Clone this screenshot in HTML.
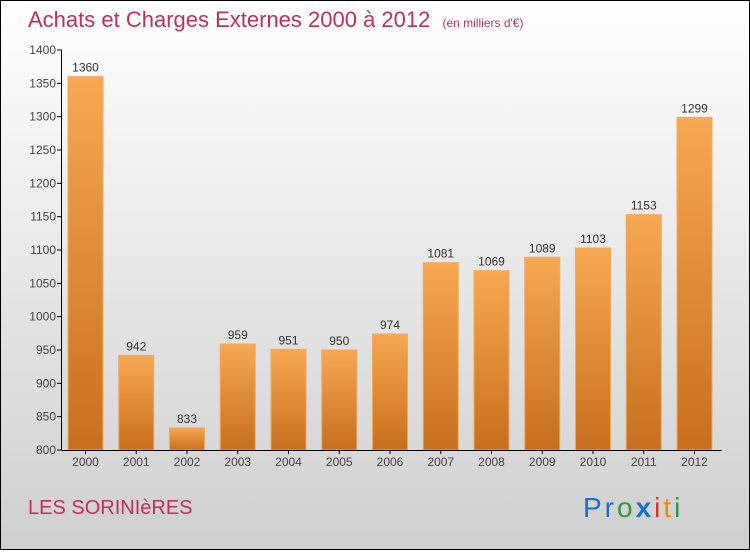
<!DOCTYPE html>
<html><head><meta charset="utf-8"><style>
body{margin:0;width:750px;height:550px;overflow:hidden;font-family:"Liberation Sans",sans-serif}
</style></head><body>
<svg width="750" height="550" xmlns="http://www.w3.org/2000/svg">
<defs>
<linearGradient id="bg" x1="0" y1="0" x2="0" y2="1"><stop offset="0" stop-color="#ffffff"/><stop offset="1" stop-color="#cfcfcf"/></linearGradient>
<linearGradient id="bar" x1="0" y1="0" x2="0" y2="1"><stop offset="0" stop-color="#f7a852"/><stop offset="1" stop-color="#c76f1e"/></linearGradient>
</defs>
<rect x="0.5" y="0.5" width="749" height="549" fill="url(#bg)" stroke="#000"/>
<text x="28" y="27" font-size="22" fill="#c0305a">Achats et Charges Externes 2000 à 2012 <tspan font-size="12" dx="6">(en milliers d'€)</tspan></text>
<g id="plot"></g>
<text x="28" y="514" font-size="20" fill="#c0305a">LES SORINIèRES</text>
<g font-size="28">
<text x="583" y="517" letter-spacing="3"><tspan fill="#1a6fc9">Pr</tspan><tspan fill="#2a9a3a">o</tspan><tspan fill="#1a6fc9" font-weight="bold">x</tspan><tspan fill="#e03020">i</tspan><tspan fill="#f08a00">t</tspan><tspan fill="#2a9a3a">i</tspan></text>
</g>
</svg>
<script>
const categories=["2000","2001","2002","2003","2004","2005","2006","2007","2008","2009","2010","2011","2012"];
const values=[1360,942,833,959,951,950,974,1081,1069,1089,1103,1153,1299];
const yTicks=[800,850,900,950,1000,1050,1100,1150,1200,1250,1300,1350,1400];
const NS="http://www.w3.org/2000/svg";
const g=document.getElementById('plot');
const y=v=>450-(v-800)*400/600;
const x=i=>85.5+i*50.75;
function el(t,a,p){const e=document.createElementNS(NS,t);for(const k in a)e.setAttribute(k,a[k]);(p||g).appendChild(e);return e;}
yTicks.forEach(t=>{
 const l=el('line',{x1:57,x2:62,y1:y(t),y2:y(t),stroke:'#000'});
 
 
 const tx=el('text',{x:56,y:y(t)+4,'font-size':12,'text-anchor':'end',fill:'#444'});tx.textContent=t;
 
 
});
values.forEach((v,i)=>{
 const r=el('rect',{x:x(i)-17.5,y:y(v),width:35,height:450-y(v),fill:'url(#bar)',stroke:'#f0a860','stroke-width':1});
 
 
 const t=el('text',{x:x(i),y:y(v)-5,'font-size':12,'text-anchor':'middle',fill:'#333'});t.textContent=v;
 
 
 const c=el('text',{x:x(i),y:466,'font-size':12,'text-anchor':'middle',fill:'#444'});c.textContent=categories[i];
 
 
 const tk=el('line',{x1:x(i),x2:x(i),y1:450,y2:454,stroke:'#000'});
 
 
});
const ya=el('line',{x1:61.5,x2:61.5,y1:50,y2:450,stroke:'#000'});


const xa=el('line',{x1:61.5,x2:722,y1:450.5,y2:450.5,stroke:'#000'});


</script>
</body></html>
